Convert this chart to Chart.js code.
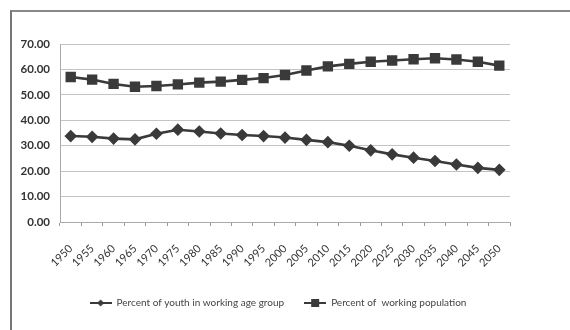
<!DOCTYPE html>
<html>
<head>
<meta charset="utf-8">
<script src="https://cdn.jsdelivr.net/npm/chart.js@4"></script>
<style>
  body { margin: 0; background: #fff; }
  #wrap { position: relative; width: 570px; height: 330px; overflow: hidden; }
  #frame { position: absolute; left: 10px; top: 10px; width: 700px; height: 500px;
           border-left: 2px solid #777; border-top: 2px solid #888; }
  #myChart { position: absolute; left: 0; top: 0; }
</style>
</head>
<body>
<div id="wrap">
  <div id="frame"></div>
  <canvas id="myChart" width="570" height="330"></canvas>
</div>
<script>
// data
const years = ['1950', '1955', '1960', '1965', '1970', '1975', '1980', '1985', '1990', '1995', '2000',
               '2005', '2010', '2015', '2020', '2025', '2030', '2035', '2040', '2045', '2050'];
const youthShare = [33.8, 33.5, 32.8, 32.5, 34.7, 36.3, 35.6, 34.8, 34.2, 33.8, 33.2,
                    32.3, 31.4, 30.0, 28.2, 26.6, 25.3, 24.0, 22.6, 21.3, 20.5];
const workingShare = [57.0, 56.0, 54.3, 53.2, 53.5, 54.1, 54.8, 55.2, 55.9, 56.6, 57.8,
                      59.6, 61.2, 62.2, 63.0, 63.5, 64.0, 64.4, 63.9, 63.0, 61.5];
const seriesNames = ['Percent of youth in working age group', 'Percent of  working population'];
const yTicks = [0, 10, 20, 30, 40, 50, 60, 70];

const lineColor = '#3a3a3a';

// little legend icons: a line with the marker on it
function legendIcon(kind) {
    const c = document.createElement('canvas');
    c.width = 22; c.height = 10;
    const g = c.getContext('2d');
    g.strokeStyle = lineColor;
    g.lineWidth = 2;
    g.beginPath(); g.moveTo(0, 5); g.lineTo(22, 5); g.stroke();
    g.fillStyle = lineColor;
    if (kind === 'diamond') {
        g.beginPath(); g.moveTo(11, 1.5); g.lineTo(14.5, 5); g.lineTo(11, 8.5); g.lineTo(7.5, 5); g.closePath(); g.fill();
    } else {
        g.fillRect(7, 1, 8, 8);
    }
    return c;
}

// move the legend a bit to the right, like the original
const legendShift = {
    id: 'legendShift',
    afterLayout(chart) {
        chart.legend.left = 23;
        chart.legend.right = 533;
    }
};

const ctx = document.getElementById('myChart').getContext('2d');

const myChart = new Chart(ctx, {
    type: 'line',
    data: {
        labels: years,
        datasets: [{
            label: seriesNames[0],
            data: youthShare,
            borderColor: lineColor,
            backgroundColor: lineColor,
            borderWidth: 2.6,
            pointStyle: 'rectRot',
            pointRadius: 4.5,
            pointHoverRadius: 4.5,
            tension: 0
        }, {
            label: seriesNames[1],
            data: workingShare,
            borderColor: lineColor,
            backgroundColor: lineColor,
            borderWidth: 2.6,
            pointStyle: 'rect',
            pointRadius: 5.5,
            pointHoverRadius: 5.5,
            tension: 0
        }]
    },
    options: {
        responsive: false,
        animation: false,
        layout: { padding: { left: 0, right: 60, top: 44, bottom: 12 } },
        plugins: {
            tooltip: { enabled: false },
            legend: {
                position: 'bottom',
                labels: {
                    color: '#444',
                    font: { family: 'Lato', size: 10 },
                    usePointStyle: true,
                    pointStyleWidth: 22,
                    padding: 20,
                    generateLabels: (chart) => chart.data.datasets.map((ds, i) => ({
                        text: ds.label,
                        pointStyle: legendIcon(i === 0 ? 'diamond' : 'square'),
                        fillStyle: lineColor,
                        strokeStyle: lineColor,
                        lineWidth: 0,
                        datasetIndex: i,
                        fontColor: '#444'
                    }))
                }
            }
        },
        scales: {
            x: {
                offset: true,
                grid: {
                    offset: true,
                    drawOnChartArea: false,
                    drawTicks: true,
                    tickLength: 4,
                    color: '#999'
                },
                border: { color: '#aaa', width: 1 },
                ticks: {
                    autoSkip: false,
                    maxRotation: 45,
                    minRotation: 45,
                    color: '#333',
                    font: { family: 'Lato', size: 11 },
                    padding: 16
                },
                afterFit: (scale) => { scale.height = 56; }
            },
            y: {
                min: 0,
                max: 70,
                afterBuildTicks: (scale) => { scale.ticks = yTicks.map(v => ({ value: v })); },
                grid: {
                    color: '#c4c4c4',
                    drawTicks: false
                },
                border: { color: '#aaa', width: 1 },
                ticks: {
                    color: '#333',
                    font: { family: 'Lato', size: 11.5, weight: 'bold' },
                    padding: 10,
                    callback: (v) => Number(v).toFixed(2)
                },
                afterFit: (scale) => { scale.width = 60; }
            }
        }
    },
    plugins: [legendShift]
});
</script>
</body>
</html>
